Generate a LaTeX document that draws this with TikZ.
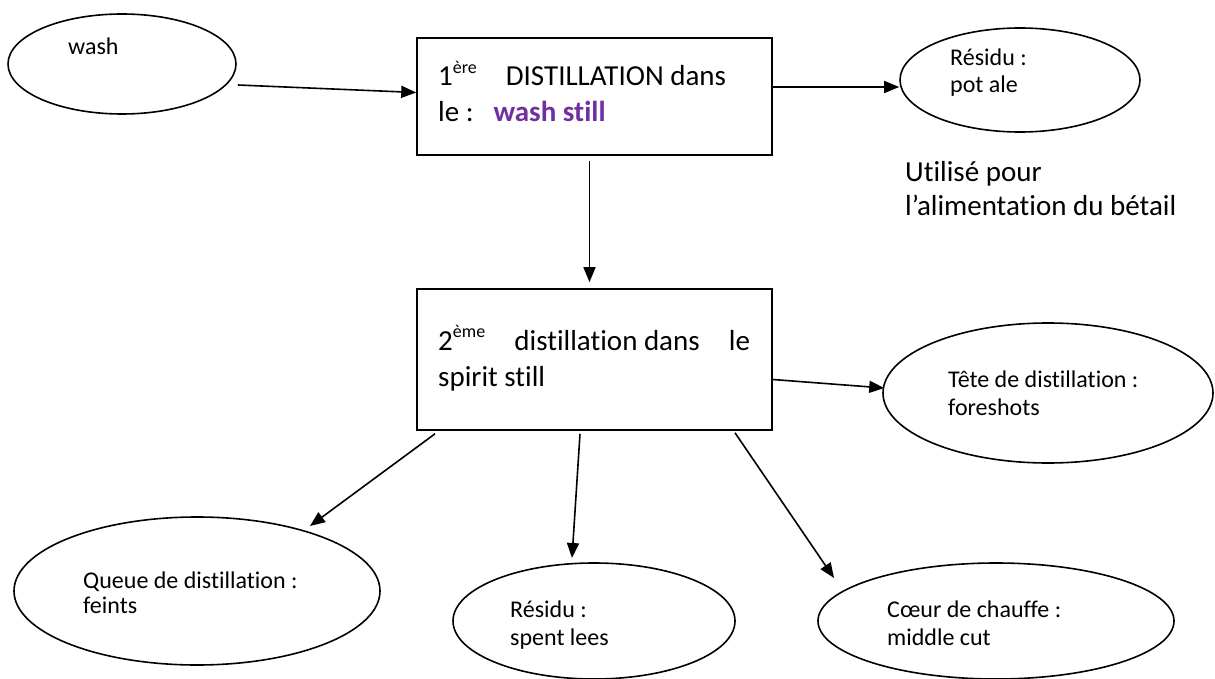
\documentclass[tikz,border=0pt]{standalone}
\usepackage{fontspec}
\setmainfont{Carlito}[Ligatures=NoCommon]
\usetikzlibrary{arrows.meta,shapes.geometric,calc}
\definecolor{stillpurple}{HTML}{7030A0}
% raised ordinal ending (1ère, 2ème)
\newcommand{\ordsup}[1]{\raisebox{0.42em}{\fontsize{18}{18}\selectfont #1}}

\begin{document}
\begin{tikzpicture}[x=1pt,y=-1pt,
  stage/.style={draw,line width=1.6pt,rectangle,inner sep=0,minimum width=355pt},
  product/.style={draw,line width=1.6pt,ellipse,inner sep=0},
  flow/.style={line width=1.6pt,-{Triangle[length=15pt,width=12pt]}},
  small/.style={anchor=base west,inner sep=0,font=\fontsize{24}{28}\selectfont},
  big/.style={anchor=base west,inner sep=0,font=\fontsize{29}{35}\selectfont}]

\useasboundingbox (0,0) rectangle (1215,679);

% distillation stages
\node[stage,minimum height=117pt] (box1) at (594.5,96.5) {};
\node[stage,minimum height=141pt] (box2) at (594.5,359.5) {};

% inputs and products
\node[product,minimum width=228pt,minimum height=100pt] (wash) at (122,64) {};
\node[product,minimum width=240pt,minimum height=104pt] (potale) at (1020,80) {};
\node[product,minimum width=330pt,minimum height=140pt] (foreshots) at (1048,393) {};
\node[product,minimum width=366pt,minimum height=148pt] (feints) at (197,591) {};
\node[product,minimum width=282pt,minimum height=116pt] (lees) at (594,621) {};
\node[product,minimum width=356pt,minimum height=116pt] (coeur) at (996,621) {};

% texts
\node[small] (washT) at (68,55) {wash};

\node[big] (b1a) at (438,86) {1\ordsup{ère}\hspace{29pt}DISTILLATION dans};
\node[big] (b1b) at (438,122) {le :\hspace{20pt}\textcolor{stillpurple}{\bfseries wash still}};

\node[big] (b2a) at (438,350) {\hbox to 312pt{2\ordsup{ème}\hfill distillation dans\hfill le}};
\node[big] (b2b) at (438,386) {spirit still};

\node[small] (potA) at (950,66) {Résidu :};
\node[small] (potB) at (950,93) {pot ale};

\node[big] (useA) at (905,182) {Utilisé pour};
\node[big] (useB) at (905,215) {l’alimentation du bétail};

\node[small] (foreA) at (948,387) {Tête de distillation :};
\node[small] (foreB) at (948,415) {foreshots};

\node[small] (feintA) at (83,588) {Queue de distillation :};
\node[small] (feintB) at (83,613) {feints};

\node[small] (leesA) at (510,617) {Résidu :};
\node[small] (leesB) at (510,645) {spent lees};

\node[small] (coeurA) at (887,617) {Cœur de chauffe :};
\node[small] (coeurB) at (887,645) {middle cut};

% flows
\draw[flow] ($(wash.east)+(1,21)$) -- ($(box1.west)+(0,-4)$);
\draw[flow] ($(box1.east)+(0,-9.5)$) -- ($(potale.west)+(0,7)$);
\draw[flow] ($(box1.south)+(-5,5)$) -- ($(box2.north)+(-5,-6)$);
\draw[flow] ($(box2.east)+(0,20)$) -- ($(foreshots.west)+(2,-5)$);
\draw[flow] ($(box2.south)+(-159.5,3)$) -- ($(feints.center)+(113,-65)$);
\draw[flow] ($(box2.south)+(-14.5,3)$) -- ($(lees.center)+(-22,-63)$);
\draw[flow] ($(box2.south)+(140.5,2)$) -- ($(coeur.center)+(-162,-43)$);
\end{tikzpicture}
\end{document}
